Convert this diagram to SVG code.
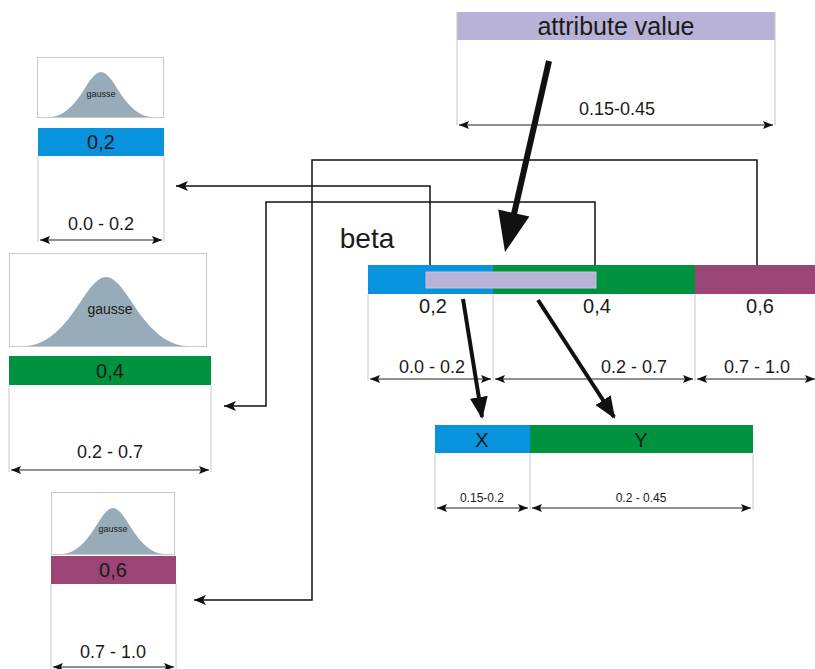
<svg xmlns="http://www.w3.org/2000/svg" width="815" height="669" viewBox="0 0 815 669">
<defs>
<style>
.t{font-family:"Liberation Sans",Arial,sans-serif;fill:#1a1a1a;text-anchor:middle}
.bar{font-size:20px}
.dim{font-size:18px}
.sm{font-size:12px}
.frame{stroke:#c8c8c8;stroke-width:1;fill:none}
.dl{stroke:#222;stroke-width:1;fill:none;marker-start:url(#da);marker-end:url(#da)}
.gbox{fill:#fff;stroke:#c8c8c8;stroke-width:1}
.gauss{fill:#97acb8}
.conn{stroke:#111;stroke-width:1.5;fill:none}
.thick{stroke:#111;stroke-width:4;fill:none}
</style>
<marker id="da" markerUnits="userSpaceOnUse" markerWidth="12" markerHeight="8" refX="10" refY="4" orient="auto-start-reverse">
<path d="M0,0 L10,4 L0,8 L2,4 Z" fill="#111"/>
</marker>
<marker id="ca" markerUnits="userSpaceOnUse" markerWidth="14" markerHeight="10" refX="12" refY="5" orient="auto">
<path d="M0,0 L12,5 L0,10 L3,5 Z" fill="#111"/>
</marker>
<marker id="ta" markerUnits="userSpaceOnUse" markerWidth="24" markerHeight="18" refX="20" refY="9" orient="auto">
<path d="M0,0 L22,9 L0,18 Z" fill="#111"/>
</marker>
</defs>

<g id="attribute-value">
<rect x="457" y="12" width="318" height="28" fill="#b8b2d6"/>
<path class="frame" d="M457,12 V125 M775,12 V125"/>
<text class="t" x="616" y="35" font-size="25">attribute value</text>
<text class="t dim" x="617" y="115">0.15-0.45</text>
<line class="dl" x1="459" y1="125" x2="773" y2="125"/>
</g>

<g id="gauss-02">
<rect class="gbox" x="37.5" y="57.5" width="126" height="60"/>
<path class="gauss" d="M38,117 L50,117 C61.3,117 72.7,107.9 84,89.7 C89.7,80.6 95.3,72 101,72 C106.7,72 112.3,80.6 118,89.7 C129.3,107.9 140.7,117 152,117 L164,117 Z"/>
<text class="t" x="101" y="97" font-size="9">gausse</text>
<rect x="38" y="128" width="126" height="28" fill="#0a93dd"/>
<text class="t bar" x="101" y="149">0,2</text>
<path class="frame" d="M38,156 V242 M164,156 V242"/>
<text class="t dim" x="101" y="230">0.0 - 0.2</text>
<line class="dl" x1="40" y1="240" x2="162" y2="240"/>
</g>

<g id="gauss-04">
<rect class="gbox" x="9.5" y="253.5" width="197" height="93"/>
<path class="gauss" d="M10,346 L25,346 C43,346 61,332.1 79,304.1 C88,290.2 97,277 106,277 C115,277 124,290.2 133,304.1 C151,332.1 169,346 187,346 L206,346 Z"/>
<text class="t" x="110" y="314" font-size="14">gausse</text>
<rect x="9" y="356" width="202" height="29" fill="#00923f"/>
<text class="t bar" x="110" y="378">0,4</text>
<path class="frame" d="M9,385 V472 M211,385 V472"/>
<text class="t dim" x="110" y="458">0.2 - 0.7</text>
<line class="dl" x1="11" y1="470" x2="209" y2="470"/>
</g>

<g id="gauss-06">
<rect class="gbox" x="51.5" y="492.5" width="123" height="62"/>
<path class="gauss" d="M52,554 L62,554 C73.3,554 84.7,544.7 96,526.1 C101.7,516.8 107.3,508 113,508 C118.7,508 124.3,516.8 130,526.1 C141.3,544.7 152.7,554 164,554 L174,554 Z"/>
<text class="t" x="113" y="532" font-size="9">gausse</text>
<rect x="51" y="556" width="125" height="28" fill="#9a4575"/>
<text class="t bar" x="113" y="577">0,6</text>
<path class="frame" d="M51,584 V669 M176,584 V669"/>
<text class="t dim" x="113" y="658">0.7 - 1.0</text>
<line class="dl" x1="53" y1="667" x2="174" y2="667"/>
</g>

<g id="beta">
<text class="t" x="367" y="248" font-size="28">beta</text>
<rect x="368" y="265" width="125" height="29" fill="#0a93dd"/>
<rect x="493" y="265" width="202" height="29" fill="#00923f"/>
<rect x="695" y="265" width="120" height="29" fill="#9a4575"/>
<rect x="426" y="272" width="170" height="16" fill="#b8b2d6" stroke="#c8c4e0" stroke-width="1"/>
<path class="frame" d="M368,294 V381 M493,294 V381 M695,294 V381"/>
<text class="t bar" x="433" y="313">0,2</text>
<text class="t bar" x="597" y="313">0,4</text>
<text class="t bar" x="760" y="313">0,6</text>
<text class="t dim" x="432" y="373">0.0 - 0.2</text>
<text class="t dim" x="634" y="373">0.2 - 0.7</text>
<text class="t dim" x="757" y="373">0.7 - 1.0</text>
<line class="dl" x1="370" y1="379" x2="491" y2="379"/>
<line class="dl" x1="495" y1="379" x2="693" y2="379"/>
<line class="dl" x1="697" y1="379" x2="815" y2="379"/>
</g>

<g id="xy">
<rect x="435" y="425" width="95" height="28" fill="#0a93dd"/>
<rect x="530" y="425" width="223" height="28" fill="#00923f"/>
<text class="t bar" x="482" y="447">X</text>
<text class="t bar" x="641" y="447">Y</text>
<path class="frame" d="M435,453 V510 M530,453 V510 M753,453 V510"/>
<text class="t sm" x="482" y="502">0.15-0.2</text>
<text class="t sm" x="641" y="502">0.2 - 0.45</text>
<line class="dl" x1="437" y1="508" x2="528" y2="508"/>
<line class="dl" x1="532" y1="508" x2="751" y2="508"/>
</g>

<g id="connectors">
<polyline class="conn" points="430,265 430,186 176,186" marker-end="url(#ca)"/>
<polyline class="conn" points="595,265 595,202 266,202 266,406 224,406" marker-end="url(#ca)"/>
<polyline class="conn" points="757,265 757,160 312,160 312,600 194,600" marker-end="url(#ca)"/>
<line x1="549" y1="61" x2="514" y2="214" stroke="#111" stroke-width="6"/>
<polygon points="505,252 529.4,216.5 498.2,209.5" fill="#111"/>
<line class="thick" x1="463" y1="299" x2="482" y2="417" marker-end="url(#ta)"/>
<line class="thick" x1="538" y1="300" x2="614" y2="417" marker-end="url(#ta)"/>
</g>
</svg>
